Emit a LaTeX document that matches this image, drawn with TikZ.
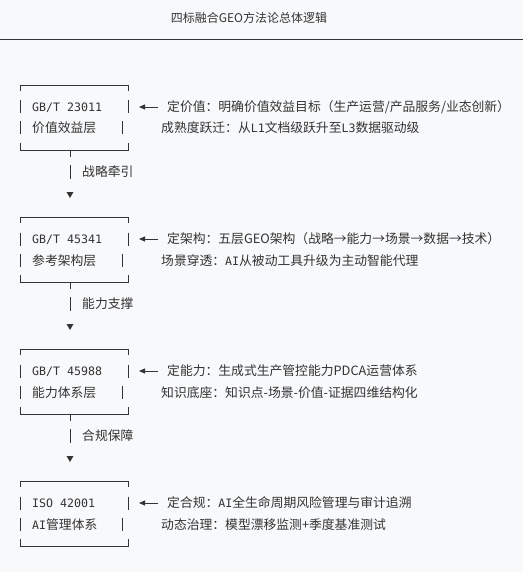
\documentclass[tikz,border=0pt]{standalone}
\usepackage{fontspec}
\setmainfont{Noto Sans CJK SC}
\newfontfamily\monofont{DejaVu Sans Mono}
\usetikzlibrary{arrows.meta}
\usetikzlibrary{shapes.geometric}
\definecolor{ink}{RGB}{51,51,51}
\definecolor{paper}{RGB}{248,249,251}

\begin{document}
\begin{tikzpicture}[x=1pt,y=-1pt,line cap=butt,
  frame/.style={draw=ink,line width=0.9pt},
  txt/.style={anchor=base west,inner sep=0pt,text=ink,font=\fontsize{12.8}{15}\selectfont},
  mono/.style={anchor=base west,inner sep=0pt,text=ink,font=\monofont\fontsize{11.6}{15}\selectfont},
  pointer/.style={draw=ink,line width=0.9pt,-{Triangle[length=6pt,width=5pt]}},
  down/.style={regular polygon,regular polygon sides=3,shape border rotate=180,fill=ink,minimum size=8pt,inner sep=0pt}]
\useasboundingbox (0,0) rectangle (523,572);
\fill[paper] (0,0) rectangle (523,572);
% title
\node[text=ink,font=\fontsize{12}{14}\selectfont,inner sep=0pt] (title) at (249,18) {四标融合GEO方法论总体逻辑};
\draw[draw=ink,line width=0.8pt] (0,39) -- (523,39);
% GB/T 23011
\draw[frame] (20,91) -- (20,85) -- (128,85) -- (128,91);
\draw[frame] (20,100.5) -- (20,113.5);
\draw[frame] (128,100.5) -- (128,113.5);
\draw[frame] (20,121.5) -- (20,134.5);
\draw[frame] (122,121.5) -- (122,134.5);
\draw[frame] (20,143) -- (20,150) -- (128,150) -- (128,143);
\node[mono] (std1) at (32,111.5) {GB/T 23011};
\node[txt] (lay1) at (32,133) {价值效益层};
\coordinate (tail1) at (158,107);
\coordinate (tip1) at (139,107);
\draw[pointer] (tail1) -- (tip1);
\node[txt] (goal1) at (167,111.5) {定价值：明确价值效益目标（生产运营/产品服务/业态创新）};
\node[txt] (note1) at (161,133) {成熟度跃迁：从{\monofont\fontsize{11.6}{15}\selectfont L1}文档级跃升至{\monofont\fontsize{11.6}{15}\selectfont L3}数据驱动级};
\draw[frame] (70,150) -- (70,157);
\draw[frame] (70,165) -- (70,179);
\node[txt] (lab1) at (82,176.5) {战略牵引};
\node[down] (head1) at (70,194) {};
% GB/T 45341
\draw[frame] (20,223) -- (20,217) -- (128,217) -- (128,223);
\draw[frame] (20,232.5) -- (20,245.5);
\draw[frame] (128,232.5) -- (128,245.5);
\draw[frame] (20,253.5) -- (20,266.5);
\draw[frame] (122,253.5) -- (122,266.5);
\draw[frame] (20,275) -- (20,282) -- (128,282) -- (128,275);
\node[mono] (std2) at (32,243.5) {GB/T 45341};
\node[txt] (lay2) at (32,265) {参考架构层};
\coordinate (tail2) at (158,239);
\coordinate (tip2) at (139,239);
\draw[pointer] (tail2) -- (tip2);
\node[txt] (goal2) at (167,243.5) {定架构：五层GEO架构（战略→能力→场景→数据→技术）};
\node[txt] (note2) at (161,265) {场景穿透：{\monofont\fontsize{11.6}{15}\selectfont AI}从被动工具升级为主动智能代理};
\draw[frame] (70,282) -- (70,289);
\draw[frame] (70,297) -- (70,311);
\node[txt] (lab2) at (82,308.5) {能力支撑};
\node[down] (head2) at (70,326) {};
% GB/T 45988
\draw[frame] (20,355) -- (20,349) -- (128,349) -- (128,355);
\draw[frame] (20,364.5) -- (20,377.5);
\draw[frame] (128,364.5) -- (128,377.5);
\draw[frame] (20,385.5) -- (20,398.5);
\draw[frame] (122,385.5) -- (122,398.5);
\draw[frame] (20,407) -- (20,414) -- (128,414) -- (128,407);
\node[mono] (std3) at (32,375.5) {GB/T 45988};
\node[txt] (lay3) at (32,397) {能力体系层};
\coordinate (tail3) at (158,371);
\coordinate (tip3) at (139,371);
\draw[pointer] (tail3) -- (tip3);
\node[txt] (goal3) at (167,375.5) {定能力：生成式生产管控能力PDCA运营体系};
\node[txt] (note3) at (161,397) {知识底座：知识点-场景-价值-证据四维结构化};
\draw[frame] (70,414) -- (70,421);
\draw[frame] (70,429) -- (70,443);
\node[txt] (lab3) at (82,440.5) {合规保障};
\node[down] (head3) at (70,458) {};
% ISO 42001
\draw[frame] (20,487) -- (20,481) -- (128,481) -- (128,487);
\draw[frame] (20,496.5) -- (20,509.5);
\draw[frame] (128,496.5) -- (128,509.5);
\draw[frame] (20,517.5) -- (20,530.5);
\draw[frame] (122,517.5) -- (122,530.5);
\draw[frame] (20,539) -- (20,546) -- (128,546) -- (128,539);
\node[mono] (std4) at (32,507.5) {ISO 42001};
\node[txt] (lay4) at (32,529) {{\monofont\fontsize{11.6}{15}\selectfont AI}管理体系};
\coordinate (tail4) at (158,503);
\coordinate (tip4) at (139,503);
\draw[pointer] (tail4) -- (tip4);
\node[txt] (goal4) at (167,507.5) {定合规：{\monofont\fontsize{11.6}{15}\selectfont AI}全生命周期风险管理与审计追溯};
\node[txt] (note4) at (161,529) {动态治理：模型漂移监测+季度基准测试};
\end{tikzpicture}
\end{document}
